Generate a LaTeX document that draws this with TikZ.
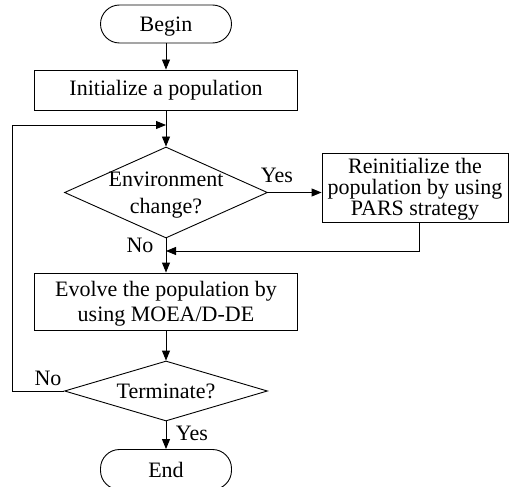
\documentclass[tikz,border=0pt]{standalone}
\usepackage{fontspec}
\setmainfont{Liberation Serif}
\usetikzlibrary{shapes,arrows.meta,positioning,calc}

\begin{document}
\begin{tikzpicture}[x=1pt, y=-1pt, line width=0.9pt,
    font=\fontsize{22}{25}\selectfont,
    >={Triangle[length=10pt,width=8pt]},
    terminal/.style={draw, rectangle, rounded corners=19pt, minimum width=131pt, minimum height=38pt, inner sep=0pt, text depth=0pt},
    process/.style={draw, rectangle, align=center, inner sep=0pt},
    decision/.style={draw, diamond, inner sep=0pt},
    lbl/.style={inner sep=1pt}]
    \useasboundingbox (0,0) rectangle (509,487);

    % main column
    \node[terminal] (start) at (166,24) {Begin};
    \node[process, minimum width=263pt, minimum height=40pt] (init) at (166,90) {Initialize a population};
    \coordinate (merge) at (166,125);
    \node[decision, minimum width=203pt, minimum height=91pt] (env) at (166,192.5) {};
    \node[align=center, font=\fontsize{22}{26.5}\selectfont] (envtext) at (166,195) {Environment\\change?};
    \coordinate (join) at (166,251);
    \node[process, minimum width=263pt, minimum height=57pt] (evolve) at (166,301.5) {};
    \node[align=center] (evolvetext) at (166,304) {Evolve the population by\\using MOEA/D-DE};
    \node[decision, minimum width=203pt, minimum height=60pt] (term) at (166,391) {};
    \node (termtext) at (term) {Terminate?};
    \node[terminal, minimum height=40pt] (stop) at (166,469.5) {End};

    % side branch
    \node[process, minimum width=186pt, minimum height=69pt] (reinit) at (415,187.5) {};
    \node[align=center, font=\fontsize{22}{21}\selectfont] (reinittext) at (415,189) {Reinitialize the\\population by using\\PARS strategy};
    \coordinate (loop) at (12,391);

    % connectors
    \draw[->] (start) -- (init);
    \draw[->] (init) -- (env);
    \draw[->] (env.east) -- (env.east -| reinit.west);
    \draw[->] ([xshift=4pt]reinit.south) |- (join);
    \draw[->] (env) -- (evolve);
    \draw[->] (evolve) -- (term);
    \draw[->] (term.west) -- (loop) |- (merge);
    \draw[->] (term) -- (stop);

    % labels
    \node[lbl] (yes1) at (277,175) {Yes};
    \node[lbl] (no1) at (140,245) {No};
    \node[lbl] (no2) at (48,378) {No};
    \node[lbl] (yes2) at (192,433) {Yes};
\end{tikzpicture}
\end{document}
